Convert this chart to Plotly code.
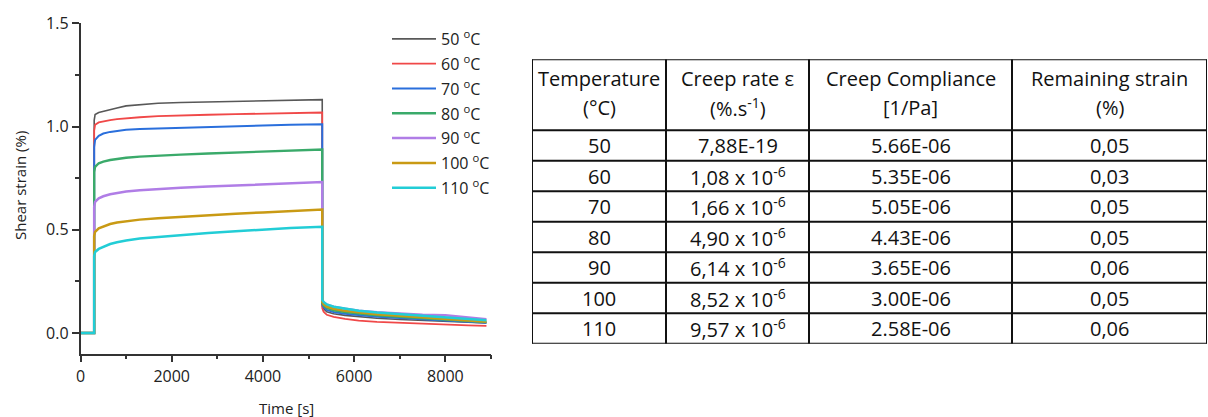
import plotly.graph_objects as go

# ---------------- data: creep / recovery curves ----------------
temps = [50, 60, 70, 80, 90, 100, 110]
legend_labels = [f"{t} <sup>o</sup>C" for t in temps]
colors = ["#585858", "#f04848", "#2a6fdc", "#3aaa6a", "#b07de6", "#c99a14", "#22cdd6"]
widths = [1.6, 1.8, 2.0, 2.4, 2.5, 2.5, 2.5]

t_rest = [0, 300]
t_creep = [300, 320, 400, 500, 650, 800, 1000, 1300, 1700, 2200, 2800, 3400, 4000, 4600, 5300]
t_recov = [5300, 5330, 5400, 5550, 5800, 6100, 6500, 7000, 7500, 8000, 8500, 8900]

strain_rest = [0.0, 0.0]

creep_50 = [1.030, 1.058, 1.068, 1.074, 1.082, 1.090, 1.100, 1.107, 1.113, 1.116, 1.119, 1.122, 1.124, 1.127, 1.130]
creep_60 = [0.980, 1.008, 1.020, 1.025, 1.031, 1.036, 1.040, 1.045, 1.050, 1.054, 1.057, 1.060, 1.063, 1.065, 1.068]
creep_70 = [0.900, 0.935, 0.955, 0.966, 0.974, 0.979, 0.984, 0.988, 0.991, 0.994, 0.998, 1.001, 1.005, 1.008, 1.011]
creep_80 = [0.780, 0.805, 0.822, 0.830, 0.838, 0.843, 0.849, 0.854, 0.859, 0.864, 0.869, 0.873, 0.878, 0.883, 0.889]
creep_90 = [0.610, 0.635, 0.652, 0.662, 0.672, 0.678, 0.685, 0.691, 0.697, 0.703, 0.709, 0.715, 0.720, 0.725, 0.731]
creep_100 = [0.470, 0.490, 0.507, 0.517, 0.528, 0.535, 0.541, 0.549, 0.556, 0.563, 0.571, 0.578, 0.584, 0.591, 0.598]
creep_110 = [0.372, 0.392, 0.407, 0.418, 0.431, 0.439, 0.448, 0.457, 0.465, 0.474, 0.484, 0.493, 0.501, 0.508, 0.514]

recov_50 = [0.130, 0.117, 0.103, 0.093, 0.085, 0.078, 0.071, 0.065, 0.060, 0.056, 0.051, 0.048]
recov_60 = [0.120, 0.103, 0.088, 0.078, 0.068, 0.060, 0.054, 0.049, 0.045, 0.041, 0.037, 0.034]
recov_70 = [0.138, 0.125, 0.112, 0.102, 0.093, 0.086, 0.079, 0.072, 0.066, 0.061, 0.055, 0.050]
recov_80 = [0.145, 0.133, 0.121, 0.110, 0.101, 0.093, 0.085, 0.078, 0.072, 0.066, 0.058, 0.053]
recov_90 = [0.155, 0.147, 0.137, 0.127, 0.117, 0.108, 0.100, 0.093, 0.088, 0.086, 0.075, 0.066]
recov_100 = [0.150, 0.140, 0.128, 0.117, 0.107, 0.099, 0.091, 0.083, 0.076, 0.069, 0.061, 0.054]
recov_110 = [0.160, 0.150, 0.138, 0.127, 0.117, 0.108, 0.099, 0.091, 0.085, 0.078, 0.070, 0.062]

creep_all = [creep_50, creep_60, creep_70, creep_80, creep_90, creep_100, creep_110]
recov_all = [recov_50, recov_60, recov_70, recov_80, recov_90, recov_100, recov_110]

# ---------------- data: table ----------------
header_line1 = ["Temperature", "Creep rate ε", "Creep Compliance", "Remaining strain"]
header_line2 = ["(°C)", "(%.s<sup>-1</sup>)", "[1/Pa]", "(%)"]
tab_temp = ["50", "60", "70", "80", "90", "100", "110"]
tab_rate = ["7,88E-19", "1,08 x 10<sup>-6</sup>", "1,66 x 10<sup>-6</sup>", "4,90 x 10<sup>-6</sup>",
            "6,14 x 10<sup>-6</sup>", "8,52 x 10<sup>-6</sup>", "9,57 x 10<sup>-6</sup>"]
tab_compliance = ["5.66E-06", "5.35E-06", "5.05E-06", "4.43E-06", "3.65E-06", "3.00E-06", "2.58E-06"]
tab_remaining = ["0,05", "0,03", "0,05", "0,05", "0,06", "0,05", "0,06"]

x_title = "Time [s]"
y_title = "Shear strain (%)"

# ---------------- layout constants ----------------
W, H = 1208, 417
col_edges = [0, 134, 277, 480, 675]     # table column boundaries (px units)
header_h, row_h = 71, 30.5
table_left, table_top = 532, 59.3
table_w = col_edges[-1]
table_h = header_h + row_h * len(tab_temp)

fig = go.Figure()

for i, lab in enumerate(legend_labels):
    fig.add_trace(go.Scatter(
        x=t_rest + t_creep + t_recov,
        y=strain_rest + creep_all[i] + recov_all[i],
        mode="lines", name=lab, legendgroup=lab,
        line=dict(color=colors[i], width=widths[i]),
        xaxis="x", yaxis="y",
    ))

axis_col = "#333333"
font_main = "Open Sans"
txt_col = "#222222"

fig.update_layout(
    width=W, height=H,
    margin=dict(l=0, r=0, t=0, b=0, autoexpand=False),
    paper_bgcolor="white", plot_bgcolor="white",
    font=dict(family=font_main, color=txt_col),
    showlegend=True,
    legend=dict(
        x=387 / W, xanchor="left", y=1 - 22 / H, yanchor="top",
        bgcolor="rgba(0,0,0,0)", font=dict(size=16, family=font_main, color=txt_col),
        tracegroupgap=1, itemwidth=44,
    ),
    xaxis=dict(
        domain=[80.5 / W, 491 / W], range=[0, 9000], automargin=False,
        showline=True, linecolor=axis_col, linewidth=1.5,
        ticks="outside", ticklen=7, tickwidth=1.5, tickcolor=axis_col,
        dtick=2000, tick0=0, showgrid=False, zeroline=False,
        tickfont=dict(size=16, family=font_main, color=txt_col),
        minor=dict(ticks="outside", ticklen=4, dtick=1000, tickcolor=axis_col, tickwidth=1.5, showgrid=False),
        anchor="y",
    ),
    yaxis=dict(
        domain=[(H - 353.6) / H, (H - 23.3) / H], range=[-0.1, 1.5], automargin=False,
        showline=True, linecolor=axis_col, linewidth=1.5,
        ticks="outside", ticklen=7, tickwidth=1.5, tickcolor=axis_col,
        dtick=0.5, tick0=0, tickformat=".1f", showgrid=False, zeroline=False,
        tickfont=dict(size=16, family=font_main, color=txt_col),
        minor=dict(ticks="outside", ticklen=4, dtick=0.25, tickcolor=axis_col, tickwidth=1.5, showgrid=False),
        anchor="x",
    ),
    xaxis2=dict(
        domain=[table_left / W, (table_left + table_w) / W], range=[0, table_w],
        visible=False, fixedrange=True, anchor="y2",
    ),
    yaxis2=dict(
        domain=[(H - table_top - table_h) / H, (H - table_top) / H], range=[table_h, 0],
        visible=False, fixedrange=True, anchor="x2",
    ),
)

# axis titles
fig.add_annotation(xref="paper", yref="paper", x=286 / W, y=1 - 408 / H, text=x_title,
                   showarrow=False, font=dict(size=15, family=font_main, color=txt_col),
                   xanchor="center", yanchor="middle")
fig.add_annotation(xref="paper", yref="paper", x=20 / W, y=1 - 186 / H, text=y_title, textangle=-90,
                   showarrow=False, font=dict(size=15, family=font_main, color=txt_col),
                   xanchor="center", yanchor="middle")

# table grid lines
row_edges = [0, header_h] + [header_h + row_h * (k + 1) for k in range(len(tab_temp))]
for yv in row_edges:
    fig.add_shape(type="line", xref="x2", yref="y2", x0=0, x1=table_w, y0=yv, y1=yv,
                  line=dict(color="#111111", width=2))
for xv in col_edges:
    fig.add_shape(type="line", xref="x2", yref="y2", x0=xv, x1=xv, y0=0, y1=table_h,
                  line=dict(color="#111111", width=2))

tfont = dict(family=font_main, size=20, color="#111111")
centers = [(col_edges[j] + col_edges[j + 1]) / 2 for j in range(4)]
for j in range(4):
    fig.add_annotation(xref="x2", yref="y2", x=centers[j], y=19.5, text=header_line1[j],
                       showarrow=False, font=tfont, xanchor="center", yanchor="middle")
    fig.add_annotation(xref="x2", yref="y2", x=centers[j], y=48.5, text=header_line2[j],
                       showarrow=False, font=tfont, xanchor="center", yanchor="middle")

cols = [tab_temp, tab_rate, tab_compliance, tab_remaining]
for i in range(len(tab_temp)):
    yc = header_h + row_h * (i + 0.5)
    for j in range(4):
        fig.add_annotation(xref="x2", yref="y2", x=centers[j], y=yc, text=cols[j][i],
                           showarrow=False, font=tfont, xanchor="center", yanchor="middle")

fig.write_html("out.html")
